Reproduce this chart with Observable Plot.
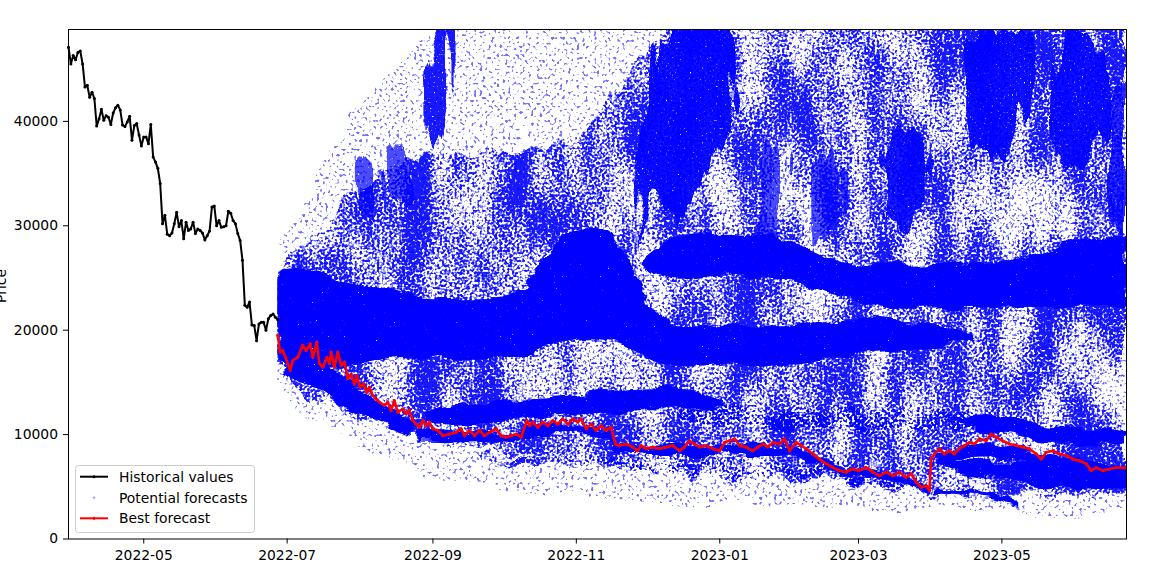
<!DOCTYPE html>
<html><head><meta charset="utf-8">
<script src="https://cdn.jsdelivr.net/npm/d3@7"></script>
<script src="https://cdn.jsdelivr.net/npm/@observablehq/plot@0.6"></script>
<style>
body{margin:0;background:#fff;}
#wrap{position:relative;width:1160px;height:562px;}
</style></head><body>
<div id="wrap"></div>
<script>
// ---------- data ----------
const histStart = "2022-03-30";
const histValues = [47100,45500,46300,45900,46600,46750,45500,43300,43450,42300,42800,42200,39550,40250,41150,40100,40550,40400,39700,40800,41300,41550,41100,39650,39500,39950,40500,38200,39600,39800,38700,37650,38500,38500,37850,39700,36600,36100,35500,34050,30200,31000,29200,29050,29300,30200,31300,29900,30500,28750,30350,29550,29700,30350,29250,29700,29550,29300,28650,29050,29500,31800,31900,30000,30500,29850,29900,30000,31400,31200,30500,30200,29250,28600,26700,22400,22200,22700,20500,20450,19000,20600,20750,20750,20000,21100,21400,21550,21250,21000];

const fcStart = "2022-06-27";
// [days after forecast start, price]
const bestForecast = [[0,19500],[1,17900],[2.1,18050],[3.3,17400],[5.3,16150],[6.4,17100],[8.5,17400],[10.6,18550],[12.1,18050],[13.8,18700],[14.9,17400],[16.6,18850],[17.7,16800],[19.2,16450],[20.9,17400],[22,16800],[22.7,17900],[24.1,16450],[25.5,17900],[27,16600],[28.4,16950],[29.8,15350],[31.2,15800],[32.6,14850],[33.6,15650],[35,14550],[36.5,14850],[37.9,14050],[39,14550],[40.4,13750],[41.8,13400],[43.3,13100],[45.4,12800],[46.8,13100],[48.2,12300],[49.6,13250],[51.1,12150],[53.2,12450],[54.6,12000],[56,12350],[57.4,11350],[58.9,11000],[60.3,10700],[61.7,11350],[63.1,10850],[64.5,11200],[65.9,10550],[68.1,10400],[70.2,9900],[73,10050],[75.9,10200],[78,10550],[79.4,9900],[81.5,10400],[83.7,9900],[85.8,10400],[87.9,9900],[90,10200],[92.9,10550],[95,9900],[97.1,9750],[99.3,9900],[101.4,10050],[103.5,9750],[106,11350],[107.1,10850],[108.5,11200],[110.6,10700],[112.7,11200],[114.9,10850],[117,11350],[119.1,11000],[121.2,11500],[123.4,11000],[125.5,11500],[127.6,11200],[129,11500],[131.2,10550],[133.3,11000],[135.4,10400],[137.5,10850],[139.7,10400],[141.8,10700],[143.6,9100],[145.3,8950],[148.2,9100],[151,8800],[153.1,8450],[154.6,8950],[156.7,8650],[159.5,8800],[162.4,8650],[165.2,8800],[168,8950],[170.9,8450],[173,8800],[175.1,9400],[177.3,9100],[179.4,8800],[182.2,8950],[185,8650],[187.9,8450],[190,9250],[192.1,9400],[194.3,9600],[196.4,8950],[199.2,8800],[202.1,8450],[204.2,8800],[206.3,9100],[208.4,8800],[210.6,9250],[213.4,9100],[215.5,9600],[217.7,8450],[220.5,9250],[222.6,8950],[224.7,8650],[227.6,8150],[230.4,7650],[233.3,7200],[236.1,6850],[238.9,6550],[241.8,6400],[244.6,6700],[247.4,6550],[250.3,6850],[253.1,6400],[255.9,6050],[258.8,6400],[261.6,6050],[264.4,6400],[267.3,5900],[269.4,6250],[271.5,5450],[273.7,4950],[275.8,5100],[277.2,4650],[277.9,7650],[279.3,8150],[281.4,8650],[283.5,8150],[285.7,8450],[287.8,8150],[289.9,8650],[292.1,8950],[294.2,9250],[296.3,9100],[298.5,9600],[301.3,9400],[303.4,10050],[305.6,9750],[308.4,9400],[311.2,9100],[314.1,8950],[316.9,8800],[319.7,8650],[322.6,8150],[324.7,7650],[326.9,8300],[329.7,8450],[332.5,8150],[335.4,8000],[338.2,7650],[341,7500],[343.9,7200],[346,6550],[348.1,6850],[351,6550],[353.8,6700],[356.6,6850],[360.5,6800]];

// Potential forecasts: density envelopes of the simulated paths
const cloudDays = [0,5,10,20,30,45,60,75,90,105,120,135,150,165,180,195,210,225,240,255,270,285,300,315,330,345,361];
const sparseLo = [15500,12800,11800,10800,9300,7600,6300,5300,4900,4500,4200,3900,3600,3400,3100,3000,2900,2800,2750,2800,2800,2600,2450,2300,2150,2100,2050];
const sparseHi = [27000,29500,31500,36000,40000,44500,47000,50000,50000,50000,50000,50000,50000,50000,50000,50000,50000,50000,50000,50000,50000,50000,50000,50000,50000,50000,50000];
const medLo = [16500,15000,14000,12800,11800,10800,9800,9100,8500,8000,7500,7100,6800,6400,6000,5800,5600,5400,5300,4900,4400,4300,4200,4200,4200,4200,4300];
const medHi = [25000,26800,28000,30500,33000,35500,36500,37000,37000,37000,38000,40000,44000,50000,50000,50000,50000,50000,50000,50000,50000,50000,50000,50000,50000,50000,50000];

// dense clusters of forecast points: [days, low, high]
const coreBand = [[0,17000,25500],[5,16500,26000],[10,16000,26000],[20,16000,25500],[30,16500,24500],[45,17300,23800],[60,17500,22800],[75,17000,23000],[90,17000,22800],[105,17500,23500],[115,18500,27500],[125,19300,29800],[140,19300,30000],[150,18500,27000],[160,16500,21000],[175,16500,20000],[195,17000,20500],[210,16800,20500],[225,17000,20500],[240,17500,21000],[255,18000,21500],[270,18000,20500],[285,18500,20300],[296,19000,19800]];
const upperBand = [[156,26300,27000],[165,24500,28500],[180,25000,29500],[195,25500,29500],[210,25000,29000],[225,24500,28000],[240,23000,26000],[255,22500,26000],[270,22000,26500],[285,22200,26500],[300,22300,26200],[315,22500,26500],[330,22000,28000],[345,22000,29000],[361,22500,29000]];
const lowBand = [[62,11500,12100],[70,11000,12600],[90,11200,13000],[105,11400,13300],[120,11700,13600],[135,12000,14000],[150,12300,14500],[165,12300,14500],[180,12000,14000],[190,12700,13400]];
const underRed = [[3,16000,17500],[10,15300,17300],[20,13800,16500],[30,12500,15200],[40,11400,13700],[50,10300,12200],[58,9800,11300]];
const nearRed = [[60,9300,10500],[80,9200,10200],[100,9300,10100],[106,9800,10900],[120,10000,11000],[140,9800,10500],[143,8200,9000],[160,8000,8900],[180,8000,8900],[200,8000,8900],[220,7900,8800],[230,7100,7800],[240,6000,6700],[250,5900,6600],[260,5600,6200],[270,5000,5800],[277,4400,5000]];
const postJump = [[280,7200,8200],[300,8000,9300],[320,7300,8600],[340,6500,7500],[361,6000,6800]];
const bottomBand = [[280,6800,7600],[295,6200,7400],[310,5600,7500],[325,5000,7300],[340,4700,7000],[361,4600,6600]];
const band9500 = [[290,11000,11500],[300,10500,12000],[320,9500,11000],[340,9000,10500],[361,9000,10300]];
const trailBand = [[278,4300,4800],[288,4200,4650],[298,3950,4400],[306,3650,4100],[312,3300,3750],[316,3100,3500]];
const lightBand = [[170,11300,12000],[180,10800,12500],[220,10500,12200],[260,10400,12000],[300,10500,12000]];
const thinBand = [[85,7400,8000],[120,6900,7600],[150,6600,7300],[180,6300,7200],[210,6300,7000],[240,5600,6200],[270,4300,5000]];
// vertical streaks of fast-rising paths
const streakA = [[63,38000,44000],[67,37000,47000],[71,40000,49000],[75,44000,49000]];
const streakB = [[33,31000,36000],[38,30500,37500],[43,31500,35000]];
const streakC = [[46,32500,37000],[51,32000,38500],[56,33000,36000]];
const streakD = [[152,28000,33000],[157,33000,42000],[162,33000,47000],[170,30000,49000],[180,34000,49000],[188,38000,49000],[194,42000,47000]];
const streakE = [[293,40000,46000],[300,37000,49000],[310,36000,49000],[318,39000,49000],[323,44000,48000]];
const streakF = [[330,38000,45000],[336,35000,49000],[346,36500,49000],[353,40000,47000]];
const streakG = [[353,30000,42000],[361,28500,44000]];
const streakH = [[258,31000,36000],[265,30000,39500],[272,30500,39000],[279,32000,36000]];
const streakI = [[204,29000,35000],[210,27000,39000],[216,29000,36000]];
const streakJ = [[228,28000,36000],[236,30000,38000],[242,31000,35000]];

const xStart = "2022-03-30", xEnd = "2023-06-23";
const xTicks = ["2022-05-01","2022-07-01","2022-09-01","2022-11-01","2023-01-01","2023-03-01","2023-05-01"];
const yTicks = [0,10000,20000,30000,40000];
const yMax = 48800;
const legendLabels = ["Historical values","Potential forecasts","Best forecast"];

// ---------- build ----------
const parse = d3.utcParse("%Y-%m-%d");
const t0 = parse(fcStart);
const dayToDate = d => new Date(+t0 + d * 864e5);
const hist = histValues.map((v, i) => ({date: d3.utcDay.offset(parse(histStart), i), value: v}));
const best = bestForecast.map(([d, v]) => ({date: dayToDate(d), value: v}));
const envRows = (lo, hi) => cloudDays.map((d, i) => ({date: dayToDate(d), lo: lo[i], hi: hi[i]}));
const band = arr => arr.map(([d, lo, hi]) => ({date: dayToDate(d), lo, hi}));

const BLUE = "#0000ff";
// each cloud layer: rows, texture filter, opacity, curve
const cloudLayers = [
  [envRows(sparseLo, sparseHi), "fSparse", 0.55, "basis"],
  [envRows(medLo, medHi), "fMed", 0.9, "basis"],
  [band(lightBand), "fMed", 0.9, "basis"],
  [band(thinBand), "fMed", 0.9, "basis"],
  [band(streakI), "fStreak", 0.7, "basis"],
  [band(streakJ), "fStreak", 0.7, "basis"],
  [band(streakB), "fStreak", 0.7, "basis"],
  [band(streakC), "fStreak", 0.7, "basis"],
  [band(coreBand), "fDense", 1, "basis"],
  [band(upperBand), "fDense", 1, "basis"],
  [band(lowBand), "fDense", 1, "basis"],
  [band(underRed), "fDense", 1, "basis"],
  [band(nearRed), "fDense", 1, "linear"],
  [band(postJump), "fDense", 1, "basis"],
  [band(bottomBand), "fDense", 1, "basis"],
  [band(band9500), "fDense", 1, "basis"],
  [band(trailBand), "fDense", 1, "basis"],
  [band(streakA), "fStreak", 0.9, "linear"],
  [band(streakD), "fStreak", 0.95, "linear"],
  [band(streakE), "fStreak", 0.95, "linear"],
  [band(streakF), "fStreak", 0.95, "linear"],
  [band(streakG), "fStreak", 0.85, "linear"],
  [band(streakH), "fStreak", 0.9, "linear"]
];

const svg = Plot.plot({
  width: 1160, height: 562,
  marginLeft: 68, marginRight: 34, marginTop: 29, marginBottom: 23.5,
  style: {fontFamily: "DejaVu Sans", fontSize: "13.89px", color: "black", background: "white"},
  x: {type: "utc", domain: [parse(xStart), parse(xEnd)], ticks: xTicks.map(parse), tickFormat: d3.utcFormat("%Y-%m"), tickSize: 5, tickPadding: 6, label: null},
  y: {domain: [0, yMax], ticks: yTicks, tickFormat: d3.format("d"), tickSize: 5, tickPadding: 5.5, label: null},
  marks: [
    ...cloudLayers.map(([rows, , op, curve]) =>
      Plot.areaY(rows, {x: "date", y1: "lo", y2: "hi", fill: BLUE, fillOpacity: op, curve, clip: true})),
    Plot.line(hist, {x: "date", y: "value", stroke: "black", strokeWidth: 2}),
    Plot.dot(hist, {x: "date", y: "value", r: 1.5, fill: "black"}),
    Plot.line(best, {x: "date", y: "value", stroke: "#ff0000", strokeWidth: 2.6}),
    Plot.dot(best, {x: "date", y: "value", r: 1.6, fill: "#ff0000"}),
    Plot.frame({stroke: "black", strokeWidth: 1})
  ]
});

// ---------- textures (speckled point-cloud look) ----------
const sel = d3.select(svg);
const defs = sel.insert("defs", ":first-child");
function filt(id) {
  return defs.append("filter").attr("id", id).attr("filterUnits", "userSpaceOnUse")
    .attr("x", 0).attr("y", 0).attr("width", 1160).attr("height", 562)
    .attr("color-interpolation-filters", "sRGB");
}
function alphaMatrix(f, input, k, b, result) {
  f.append("feColorMatrix").attr("in", input).attr("type", "matrix")
    .attr("values", `0 0 0 0 0  0 0 0 0 0  0 0 0 0 0  0 0 0 ${k} ${b}`).attr("result", result);
}
function displace(f, freq, seed, scale) {
  f.append("feTurbulence").attr("type", "fractalNoise").attr("baseFrequency", freq).attr("numOctaves", 2).attr("seed", seed).attr("result", "dn");
  f.append("feDisplacementMap").attr("in", "SourceGraphic").attr("in2", "dn").attr("scale", scale)
    .attr("xChannelSelector", "R").attr("yChannelSelector", "G").attr("result", "disp");
}
// sparse scattered points
{
  const f = filt("fSparse");
  displace(f, "0.02 0.04", 11, 24);
  f.append("feTurbulence").attr("type", "fractalNoise").attr("baseFrequency", 0.35).attr("numOctaves", 1).attr("seed", 1).attr("result", "hi");
  alphaMatrix(f, "hi", 11, -6.5, "mask");
  f.append("feComposite").attr("in", "disp").attr("in2", "mask").attr("operator", "in");
}
// medium density with blotches
{
  const f = filt("fMed");
  displace(f, "0.05 0.02", 12, 26);
  f.append("feTurbulence").attr("type", "fractalNoise").attr("baseFrequency", 0.4).attr("numOctaves", 1).attr("seed", 2).attr("result", "hi");
  f.append("feTurbulence").attr("type", "fractalNoise").attr("baseFrequency", "0.03 0.012").attr("numOctaves", 2).attr("seed", 9).attr("result", "lo");
  f.append("feComposite").attr("in", "hi").attr("in2", "lo").attr("operator", "arithmetic")
    .attr("k1", 0).attr("k2", 1).attr("k3", 0.7).attr("k4", -0.35).attr("result", "mix");
  alphaMatrix(f, "mix", 6, -2.5, "mask");
  f.append("feComposite").attr("in", "disp").attr("in2", "mask").attr("operator", "in");
}
// dense clusters with ragged edges
{
  const f = filt("fDense");
  displace(f, "0.035 0.07", 4, 16);
  f.append("feTurbulence").attr("type", "fractalNoise").attr("baseFrequency", 0.5).attr("numOctaves", 1).attr("seed", 3).attr("result", "hi");
  alphaMatrix(f, "hi", 8, -1.2, "mask");
  f.append("feComposite").attr("in", "disp").attr("in2", "mask").attr("operator", "in");
}
// vertical streaks: strongly ragged sideways
{
  const f = filt("fStreak");
  displace(f, "0.09 0.012", 6, 34);
  f.append("feTurbulence").attr("type", "fractalNoise").attr("baseFrequency", 0.5).attr("numOctaves", 1).attr("seed", 5).attr("result", "hi");
  alphaMatrix(f, "hi", 8, -1.6, "mask");
  f.append("feComposite").attr("in", "disp").attr("in2", "mask").attr("operator", "in");
}
// the forecast cloud begins at the forecast start date and stays inside the frame
const xs = svg.scale("x"), ys = svg.scale("y");
const cx0 = xs.apply(t0), cx1 = xs.apply(parse(xEnd));
const cy0 = ys.apply(yMax), cy1 = ys.apply(0);
defs.append("clipPath").attr("id", "cloudClip").append("rect")
  .attr("x", cx0).attr("y", cy0).attr("width", cx1 - cx0).attr("height", cy1 - cy0);
const areaGroups = svg.querySelectorAll('g[aria-label="area"]');
areaGroups.forEach((g, i) => {
  if (!cloudLayers[i]) return;
  const wrapG = document.createElementNS("http://www.w3.org/2000/svg", "g");
  wrapG.setAttribute("clip-path", "url(#cloudClip)");
  g.parentNode.insertBefore(wrapG, g);
  wrapG.appendChild(g);
  g.removeAttribute("clip-path");
  g.setAttribute("filter", `url(#${cloudLayers[i][1]})`);
});

// y-axis title
sel.append("text").attr("transform", "translate(6,286) rotate(-90)")
  .attr("text-anchor", "middle").attr("font-family", "DejaVu Sans").attr("font-size", "13.89px")
  .attr("fill", "black").text("Price");

// legend
const lg = sel.append("g").attr("font-family", "DejaVu Sans").attr("font-size", "13.89px").attr("text-anchor", "start");
lg.append("rect").attr("x", 75.5).attr("y", 465.5).attr("width", 179).attr("height", 67).attr("rx", 3)
  .attr("fill", "white").attr("fill-opacity", 0.8).attr("stroke", "#cccccc");
const rowsY = [476.7, 497.7, 518.3];
const cols = ["black", null, "#ff0000"];
rowsY.forEach((ry, i) => {
  if (cols[i]) {
    lg.append("line").attr("x1", 80).attr("x2", 108).attr("y1", ry).attr("y2", ry).attr("stroke", cols[i]).attr("stroke-width", 2);
    lg.append("circle").attr("cx", 94).attr("cy", ry).attr("r", 1.5).attr("fill", cols[i]);
  } else {
    lg.append("path").attr("d", `M92.5,${ry}h3M94,${ry - 1.5}v3`).attr("stroke", BLUE).attr("stroke-opacity", 0.35).attr("stroke-width", 0.9);
  }
  lg.append("text").attr("x", 119).attr("y", ry).attr("dy", "0.35em").attr("text-anchor", "start").attr("fill", "black").text(legendLabels[i]);
});

document.getElementById("wrap").appendChild(svg);
</script>
</body></html>
